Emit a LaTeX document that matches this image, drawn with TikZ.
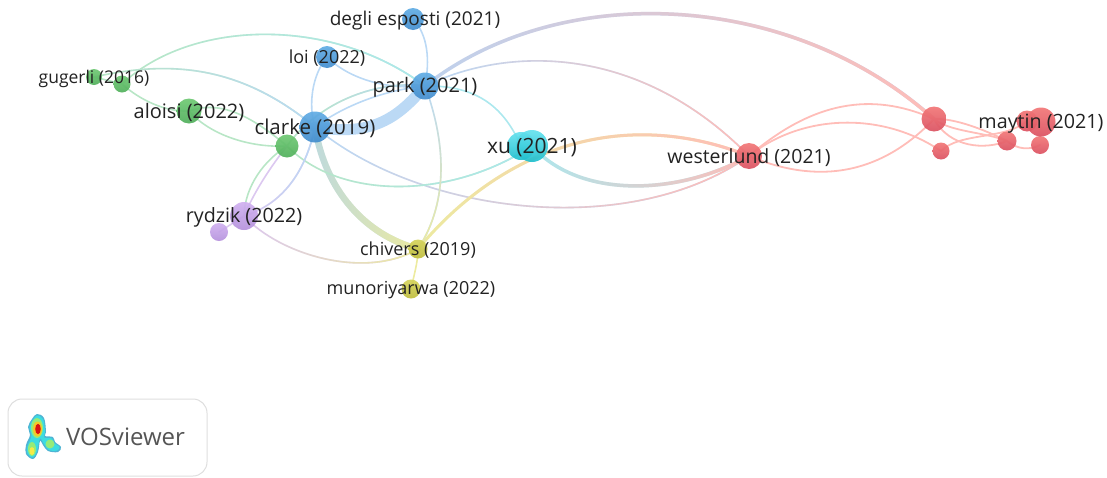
\documentclass[tikz,border=0pt]{standalone}
\usepackage{fontspec}
\setmainfont{Open Sans}
\usetikzlibrary{backgrounds,fadings}
\definecolor{ink}{HTML}{222222}
\definecolor{lblue}{HTML}{BBD9F5}
\definecolor{lbluegrey}{HTML}{BEDADE}
\definecolor{lblue2}{HTML}{BED2EE}
\definecolor{lgreen}{HTML}{B8E6C6}
\definecolor{lred}{HTML}{FFBDB8}
\definecolor{lyellow}{HTML}{EDEBA0}
\definecolor{lcyan}{HTML}{ACE8EE}
\definecolor{lpurple}{HTML}{DCC8F0}
\definecolor{blueT}{HTML}{60ACE4}
\definecolor{blueB}{HTML}{428CCD}
\definecolor{greenT}{HTML}{6EC873}
\definecolor{greenB}{HTML}{50AF5A}
\definecolor{purpleT}{HTML}{D0B0F0}
\definecolor{purpleB}{HTML}{B491DC}
\definecolor{cyanT}{HTML}{64E1EE}
\definecolor{cyanB}{HTML}{1EBECD}
\definecolor{yellowT}{HTML}{D4D25A}
\definecolor{yellowB}{HTML}{BEBC3C}
\definecolor{redT}{HTML}{F27676}
\definecolor{redB}{HTML}{DA5060}
\definecolor{logoline}{HTML}{DEDEDE}
\definecolor{logotext}{HTML}{555555}
\definecolor{heatA}{HTML}{4FB4D4}
\definecolor{heatB}{HTML}{3CDCE1}
\definecolor{heatC}{HTML}{96EB78}
\definecolor{heatD}{HTML}{F5EB46}
\definecolor{heatE}{HTML}{F5C828}
\definecolor{heatF}{HTML}{D71414}
\newcommand{\fs}[1]{\fontsize{#1}{#1}\selectfont}
\tikzset{
bub/.style={circle,inner sep=0pt,minimum size=#1,opacity=.92},
blueb/.style={bub=#1,top color=blueT,bottom color=blueB},
greenb/.style={bub=#1,top color=greenT,bottom color=greenB},
purpleb/.style={bub=#1,top color=purpleT,bottom color=purpleB},
cyanb/.style={bub=#1,top color=cyanT,bottom color=cyanB},
yellowb/.style={bub=#1,top color=yellowT,bottom color=yellowB},
redb/.style={bub=#1,top color=redT,bottom color=redB},
txt/.style={text=ink,inner sep=0pt,yshift=-1.5pt,font=\fs{#1}},
lnk/.style={line width=#1,line cap=round},
fadeeast/.style={postaction={draw=#1,path fading=west}},
fadesouth/.style={postaction={draw=#1,path fading=north}},
}
\begin{document}
\begin{tikzpicture}[x=1pt,y=-1pt]
\useasboundingbox (0,0) rectangle (1107,477);
% circles
\node[greenb=16pt] (gugerli) at (94,77) {};
\node[greenb=17pt] (green2) at (122,84) {};
\node[greenb=25pt] (aloisi) at (189,111) {};
\node[greenb=23pt] (green3) at (287,146) {};
\node[blueb=31pt] (clarke) at (315,127) {};
\node[purpleb=18pt] (purple2) at (219,232) {};
\node[purpleb=28pt] (rydzik) at (244,216) {};
\node[blueb=22pt] (degli) at (413,19) {};
\node[blueb=22pt] (loi) at (327,57) {};
\node[blueb=27pt] (park) at (425,86) {};
\node[cyanb=28pt] (xu2) at (521,146) {};
\node[cyanb=32pt] (xu) at (532,146) {};
\node[yellowb=19pt] (chivers) at (418,249) {};
\node[yellowb=19pt] (munoriyarwa) at (411,289) {};
\node[redb=26pt] (westerlund) at (749,156) {};
\node[redb=25pt] (red1) at (934,119) {};
\node[redb=17pt] (red2) at (941,151) {};
\node[redb=19pt] (red3) at (1007,141) {};
\node[redb=18pt] (red4) at (1040,145) {};
\node[redb=21pt] (red5) at (1027,121) {};
\node[redb=29pt] (maytin) at (1041,122) {};
% links
\begin{scope}[on background layer]
\draw[lnk=11pt,lblue] (clarke.center) .. controls (372,137) and (398,118) .. (park.center);
\draw[lnk=6.5pt,lbluegrey,fadeeast=lyellow] (clarke.center) .. controls (325,190) and (365,235) .. (chivers.center);
\draw[lnk=3.5pt,lblue2,fadeeast=lred] (park.center) .. controls (560,-20) and (790,-10) .. (red1.center);
\draw[lnk=1.6pt,lblue,fadeeast=lred] (park.center) .. controls (510,45) and (640,45) .. (westerlund.center);
\draw[lnk=1.6pt,lblue,fadeeast=lred] (clarke.center) .. controls (420,215) and (630,240) .. (westerlund.center);
\draw[lnk=1.6pt,lgreen,fadeeast=lcyan] (green3.center) .. controls (340,200) and (450,200) .. (xu.center);
\draw[lnk=3.5pt,lcyan,fadeeast=lred] (xu.center) .. controls (580,200) and (680,195) .. (westerlund.center);
\draw[lnk=3pt,lyellow,fadeeast=lred] (chivers.center) .. controls (500,150) and (620,105) .. (westerlund.center);
\draw[lnk=1.6pt,lyellow] (chivers.center) .. controls (418,262) and (414,275) .. (munoriyarwa.center);
\draw[lnk=1.6pt,lblue,fadesouth=lyellow] (park.center) .. controls (445,140) and (450,200) .. (chivers.center);
\draw[lnk=1.6pt,lblue] (degli.center) .. controls (428,35) and (430,60) .. (park.center);
\draw[lnk=1.6pt,lblue] (loi.center) .. controls (350,80) and (390,90) .. (park.center);
\draw[lnk=1.6pt,lblue] (loi.center) .. controls (312,75) and (308,105) .. (clarke.center);
\draw[lnk=1.6pt,lgreen,fadeeast=lblue] (green3.center) .. controls (320,100) and (380,80) .. (park.center);
\draw[lnk=1.6pt,lblue] (clarke.center) .. controls (345,105) and (385,90) .. (park.center);
\draw[lnk=1.6pt,lgreen,fadeeast=lcyan] (green2.center) .. controls (190,20) and (330,15) .. (park.center);
\draw[lnk=1.6pt,lgreen,fadeeast=lblue] (gugerli.center) .. controls (170,60) and (240,65) .. (clarke.center);
\draw[lnk=1.6pt,lgreen] (gugerli.center) -- (green2.center);
\draw[lnk=1.6pt,lgreen] (green2.center) .. controls (140,100) and (165,112) .. (aloisi.center);
\draw[lnk=1.6pt,lgreen] (aloisi.center) .. controls (220,100) and (250,115) .. (green3.center);
\draw[lnk=1.6pt,lgreen] (aloisi.center) .. controls (210,135) and (250,148) .. (green3.center);
\draw[lnk=1.6pt,lgreen] (rydzik.center) .. controls (245,185) and (265,160) .. (green3.center);
\draw[lnk=1.6pt,lpurple] (rydzik.center) .. controls (255,190) and (272,165) .. (green3.center);
\draw[lnk=1.6pt,lpurple,fadeeast=lblue] (rydzik.center) .. controls (280,205) and (305,175) .. (clarke.center);
\draw[lnk=1.6pt,lpurple] (purple2.center) -- (rydzik.center);
\draw[lnk=1.6pt,lpurple,fadeeast=lyellow] (rydzik.center) .. controls (280,255) and (365,280) .. (chivers.center);
\draw[lnk=1.6pt,lcyan] (park.center) .. controls (480,85) and (505,110) .. (xu2.center);
\draw[lnk=1.8pt,lred] (westerlund.center) .. controls (820,95) and (880,95) .. (red1.center);
\draw[lnk=1.8pt,lred] (westerlund.center) .. controls (800,115) and (880,110) .. (red2.center);
\draw[lnk=1.8pt,lred] (westerlund.center) .. controls (830,190) and (890,165) .. (red1.center);
\draw[lnk=1.8pt,lred] (red1.center) .. controls (955,118) and (985,130) .. (red3.center);
\draw[lnk=1.8pt,lred] (red1.center) .. controls (950,132) and (985,132) .. (red3.center);
\draw[lnk=1.8pt,lred] (red1.center) .. controls (950,148) and (985,150) .. (red3.center);
\draw[lnk=1.8pt,lred] (red3.center) .. controls (1018,150) and (1030,150) .. (red4.center);
\draw[lnk=1.8pt,lred] (red2.center) .. controls (960,132) and (1005,140) .. (red5.center);
\end{scope}
% labels
\node[txt=17.5] (gugerli-txt) at (gugerli) {gugerli (2016)};
\node[txt=20] (aloisi-txt) at (aloisi) {aloisi (2022)};
\node[txt=20.5] (clarke-txt) at (clarke) {clarke (2019)};
\node[txt=19.7] (rydzik-txt) at (rydzik) {rydzik (2022)};
\node[txt=19] (degli-txt) at (415,19) {degli esposti (2021)};
\node[txt=18] (loi-txt) at (loi) {loi (2022)};
\node[txt=20] (park-txt) at (park) {park (2021)};
\node[txt=21] (xu-txt) at (xu) {xu (2021)};
\node[txt=18] (chivers-txt) at (chivers) {chivers (2019)};
\node[txt=18] (munoriyarwa-txt) at (munoriyarwa) {munoriyarwa (2022)};
\node[txt=19.5] (westerlund-txt) at (westerlund) {westerlund (2021)};
\node[txt=19.7] (maytin-txt) at (maytin) {maytin (2021)};
% logo
\node[draw=logoline,line width=1pt,rounded corners=14pt,minimum width=199pt,minimum height=77pt,inner sep=0pt] (logo) at (107.5,437.5) {};
\node[text=logotext,inner sep=0pt,font=\fs{24}] (vos) at (125.5,437) {VOSviewer};
\fill[heatA] plot[smooth cycle,tension=.6] coordinates {(37,414) (44,418) (46,432) (45,436) (53,437) (55,442) (61,447) (58,452) (48,451) (43,445) (40,441) (38,452) (33,459) (26,454) (26,445) (30,435) (28,427) (32,419)};
\fill[heatB] plot[smooth cycle,tension=.6] coordinates {(37,415.5) (43,419) (45,432) (44,437.5) (52,438.5) (54,443) (59.5,447) (57,450.5) (49,450) (44,444) (40,438.5) (37,451) (33,457.5) (27.5,453.5) (27.5,446) (31.5,436) (29.5,427) (33,420)};
\fill[heatC] (32,449) ellipse (4pt and 7pt);
\fill[heatC] (50,444) ellipse (4.5pt and 4.5pt);
\fill[heatC] (37,428) ellipse (6pt and 10pt);
\fill[heatD] (32,451) ellipse (2.5pt and 4pt);
\fill[heatE] (37.5,429) ellipse (4.5pt and 7.5pt);
\fill[heatF] (38,429) ellipse (2.8pt and 5.2pt);
\end{tikzpicture}
\end{document}
